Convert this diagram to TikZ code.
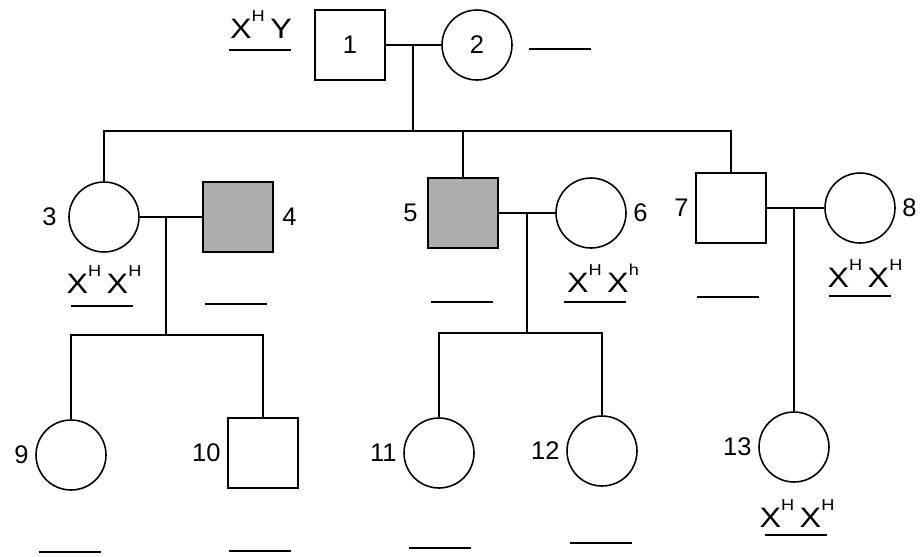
\documentclass[tikz,border=0pt]{standalone}
\usepackage{fontspec}
\setmainfont{Liberation Sans}
\usetikzlibrary{positioning}

\newcommand{\al}[1]{\raisebox{1.1ex}{\fontsize{9}{9}\selectfont #1}}
\newcommand{\geno}[1]{\scalebox{1.15}[1]{#1}}

\begin{document}
\begin{tikzpicture}[
    x=0.02cm, y=-0.02cm,
    font=\fontsize{14.5}{17}\selectfont,
    every path/.style={line width=0.9pt},
    male/.style={rectangle, draw, line width=0.9pt, minimum size=1.4cm, inner sep=0},
    female/.style={circle, draw, line width=0.9pt, minimum size=1.4cm, inner sep=0},
    sick/.style={fill=black!32},
    gtype/.style={anchor=base, inner sep=0, font=\fontsize{16}{18}\selectfont},
    blank/.style={fill=black, inner sep=0, minimum width=1.25cm, minimum height=0.7pt}
]
\useasboundingbox (0,0) rectangle (923,556);

% Generation I
\node[male] (n1) at (350,45) {1};
\node[female] (n2) at (477,45) {2};
\node[gtype] (g1) at (261,38) {\geno{X\al{H}\,Y}};
\node[blank] (b1) at (260,50) {};
\node[blank] (b2) at (560,49) {};

% Generation II
\node[female, label={[label distance=0.1cm]left:3}] (n3) at (104,217) {};
\node[male, sick, label={[label distance=0.04cm]right:4}] (n4) at (238,217) {};
\node[male, sick, label={[label distance=0.06cm]left:5}] (n5) at (463,213) {};
\node[female, label={right:6}] (n6) at (591,213) {};
\node[male, label={left:7}] (n7) at (731,208) {};
\node[female, label={right:8}] (n8) at (860,208) {};

\node[gtype] (g3) at (104,293) {\geno{X\al{H}\,X\al{H}}};
\node[blank] (b3) at (102,306) {};
\node[blank] (b4) at (236,304) {};
\node[blank] (b5) at (462,302) {};
\node[gtype] (g6) at (603,292) {\geno{X\al{H}\,X\al{h}}};
\node[blank] (b6) at (595,302) {};
\node[blank] (b7) at (728,297) {};
\node[gtype] (g8) at (865,287) {\geno{X\al{H}\,X\al{H}}};
\node[blank] (b8) at (860,296) {};

% Generation III
\node[female, label={left:9}] (n9) at (71,455) {};
\node[male, label={left:10}] (n10) at (263,453) {};
\node[female, label={left:11}] (n11) at (439,453) {};
\node[female, label={left:12}] (n12) at (602,451) {};
\node[female, label={left:13}] (n13) at (794,447) {};

\node[blank] (b9) at (70,552) {};
\node[blank] (b10) at (260,551) {};
\node[blank] (b11) at (440,548) {};
\node[blank] (b12) at (601,543) {};
\node[gtype] (g13) at (797,527) {\geno{X\al{H}\,X\al{H}}};
\node[blank] (b13) at (796,535) {};

% marriages and sibships
\coordinate (m12) at (413,45);
\coordinate (s12) at (413,131);
\draw (n1) -- (n2);
\draw (m12) -- (s12);
\draw (n3.north) |- (s12) -| (n7.north);
\draw (n5.north) -- (n5.north |- s12);

\coordinate (m34) at (166,217);
\coordinate (s34) at (166,335);
\draw (n3) -- (n4);
\draw (m34) -- (s34);
\draw (n9.north) |- (s34) -| (n10.north);

\coordinate (m56) at (527,213);
\coordinate (s56) at (527,333);
\draw (n5) -- (n6);
\draw (m56) -- (s56);
\draw (n11.north) |- (s56) -| (n12.north);

\coordinate (m78) at (794,208);
\draw (n7) -- (n8);
\draw (m78) -- (n13.north);

\end{tikzpicture}
\end{document}
